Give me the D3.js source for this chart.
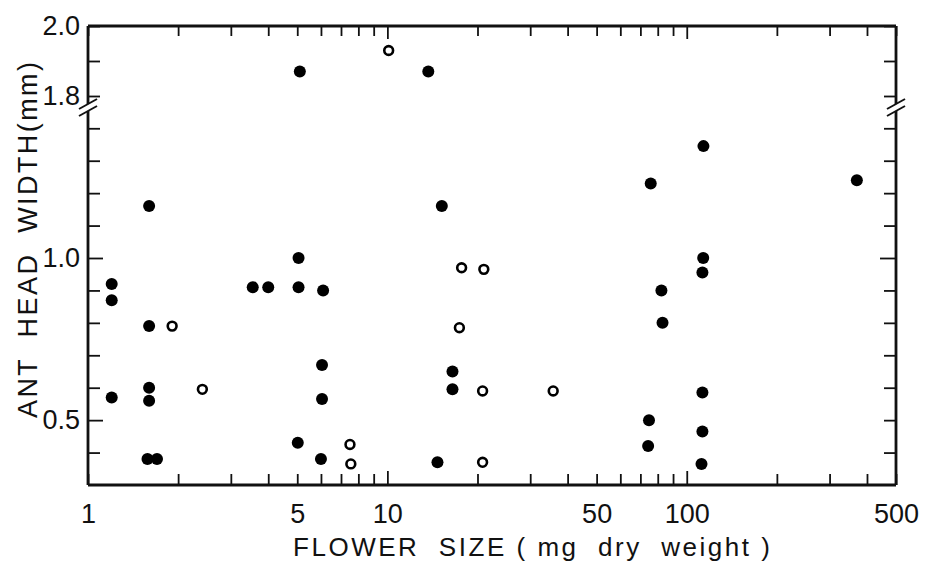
<!DOCTYPE html>
<html>
<head>
<meta charset="utf-8">
<script src="https://cdn.jsdelivr.net/npm/d3@7"></script>
<style>
  body { margin: 0; background: #fff; }
  text { font-family: "Liberation Sans", Arial, sans-serif; fill: #111; }
</style>
</head>
<body>
<svg id="chart" width="925" height="570"></svg>
<script>
// flower size (mg dry weight) and ant head width (mm)
const solidSize  = [1.2, 1.2, 1.2, 1.6, 1.6, 1.6, 1.6, 1.58, 1.7, 3.55, 4.0,
                    5.1, 5.05, 5.05, 5.02, 6.1, 6.05, 6.05, 6.0, 13.7, 14.7, 15.2, 16.5, 16.5,
                    75.8, 74.8, 74.3, 82.3, 83, 113.7, 113.5, 112.8, 112.8, 112.8, 112, 370];
const solidWidth = [0.92, 0.87, 0.57, 1.16, 0.79, 0.60, 0.56, 0.38, 0.38, 0.91, 0.91,
                    1.87, 1.00, 0.91, 0.43, 0.90, 0.67, 0.565, 0.38, 1.87, 0.37, 1.16, 0.65, 0.595,
                    1.23, 0.50, 0.42, 0.90, 0.80, 1.345, 1.0, 0.955, 0.585, 0.465, 0.365, 1.24];
const openSize   = [1.91, 2.41, 7.5, 7.55, 10.1, 17.7, 17.4, 21.0, 20.8, 20.8, 35.8];
const openWidth  = [0.79, 0.595, 0.425, 0.365, 1.93, 0.97, 0.785, 0.965, 0.59, 0.37, 0.59];

const xLabels = [1, 5, 10, 50, 100, 500];
const lowTicks = [0.4, 0.5, 0.6, 0.7, 0.8, 0.9, 1.0, 1.1, 1.2, 1.3, 1.4];
const lowLabels = [0.5, 1.0];
const highTicks = [1.8, 1.9, 2.0];
const highLabels = [1.8, 2.0];

const mLeft = 88, mRight = 896, mTop = 26, mBottom = 485, breakY = 108;

const svg = d3.select("#chart");

const x = d3.scaleLog().domain([1, 500]).range([mLeft, mRight]);
const yLow = d3.scaleLinear().domain([0.3, 1.0]).range([mBottom, 258]);
const yHigh = d3.scaleLinear().domain([1.8, 2.0]).range([96, mTop]);
const y = v => v > 1.6 ? yHigh(v) : yLow(v);

const fmt = d3.format(".1f");

// bottom axis
const gb = svg.append("g")
    .attr("transform", `translate(0,${mBottom})`)
    .call(d3.axisBottom(x).tickValues(x.ticks()).tickSize(-11).tickPadding(19)
        .tickFormat(d => xLabels.includes(d) ? d : ""));
// top axis
const gt = svg.append("g")
    .attr("transform", `translate(0,${mTop})`)
    .call(d3.axisTop(x).tickValues(x.ticks()).tickSize(-10).tickFormat(""));
gb.selectAll(".tick line").filter(d => [10, 100].includes(d)).attr("y2", -14);
gt.selectAll(".tick line").filter(d => [10, 100].includes(d)).attr("y2", 13);

// left axes
const gl1 = svg.append("g").attr("transform", `translate(${mLeft},0)`)
    .call(d3.axisLeft(yLow).tickValues(lowTicks).tickSize(-12).tickPadding(8)
        .tickFormat(d => lowLabels.includes(d) ? fmt(d) : ""));
const gl2 = svg.append("g").attr("transform", `translate(${mLeft},0)`)
    .call(d3.axisLeft(yHigh).tickValues(highTicks).tickSize(-12).tickPadding(8)
        .tickFormat(d => highLabels.includes(d) ? fmt(d) : ""));
gl1.selectAll(".tick line").filter(d => d === 1.0 || d === 0.5).attr("x2", 15);

// right axes
const gr1 = svg.append("g").attr("transform", `translate(${mRight},0)`)
    .call(d3.axisRight(yLow).tickValues(lowTicks).tickSize(-12).tickFormat(""));
const gr2 = svg.append("g").attr("transform", `translate(${mRight},0)`)
    .call(d3.axisRight(yHigh).tickValues(highTicks).tickSize(-12).tickFormat(""));
gr1.selectAll(".tick line").filter(d => d === 1.0).attr("x2", -16);

svg.selectAll(".domain").remove();
svg.selectAll(".tick line").attr("stroke", "#111").attr("stroke-width", 1.8);
svg.selectAll(".tick text").attr("font-size", 27).attr("fill", "#111")
    .style("font-family", "'Liberation Sans', Arial, sans-serif");

// frame with breaks
const frame = svg.append("g").attr("stroke", "#111").attr("stroke-width", 2.8).attr("fill", "none");
frame.append("line").attr("x1", mLeft).attr("x2", mRight).attr("y1", mBottom).attr("y2", mBottom);
frame.append("line").attr("x1", mLeft).attr("x2", mRight).attr("y1", mTop).attr("y2", mTop);
[mLeft, mRight].forEach(px => {
    frame.append("line").attr("x1", px).attr("x2", px).attr("y1", mTop).attr("y2", breakY - 4);
    frame.append("line").attr("x1", px).attr("x2", px).attr("y1", breakY + 3).attr("y2", mBottom);
    [breakY - 4, breakY + 3].forEach(cy => {
        frame.append("line").attr("stroke-width", 2)
            .attr("x1", px - 9).attr("y1", cy + 5)
            .attr("x2", px + 9).attr("y2", cy - 5);
    });
});

// points
svg.append("g").selectAll("circle")
    .data(solidSize.map((s, i) => [s, solidWidth[i]]))
    .join("circle")
    .attr("cx", d => x(d[0])).attr("cy", d => y(d[1]))
    .attr("r", 6).attr("fill", "#000");

svg.append("g").selectAll("circle")
    .data(openSize.map((s, i) => [s, openWidth[i]]))
    .join("circle")
    .attr("cx", d => x(d[0])).attr("cy", d => y(d[1]))
    .attr("r", 4.4).attr("fill", "#fff").attr("stroke", "#000").attr("stroke-width", 2.6);

// axis titles
svg.append("text")
    .attr("x", 293).attr("y", 556)
    .attr("font-size", 26)
    .attr("textLength", 477).attr("lengthAdjust", "spacing")
    .style("white-space", "pre")
    .text("FLOWER  SIZE ( mg  dry  weight )");

svg.append("text")
    .attr("transform", "translate(37,418) rotate(-90)")
    .attr("font-size", 27)
    .attr("textLength", 356).attr("lengthAdjust", "spacing")
    .style("white-space", "pre")
    .text("ANT  HEAD  WIDTH(mm)");
</script>
</body>
</html>
